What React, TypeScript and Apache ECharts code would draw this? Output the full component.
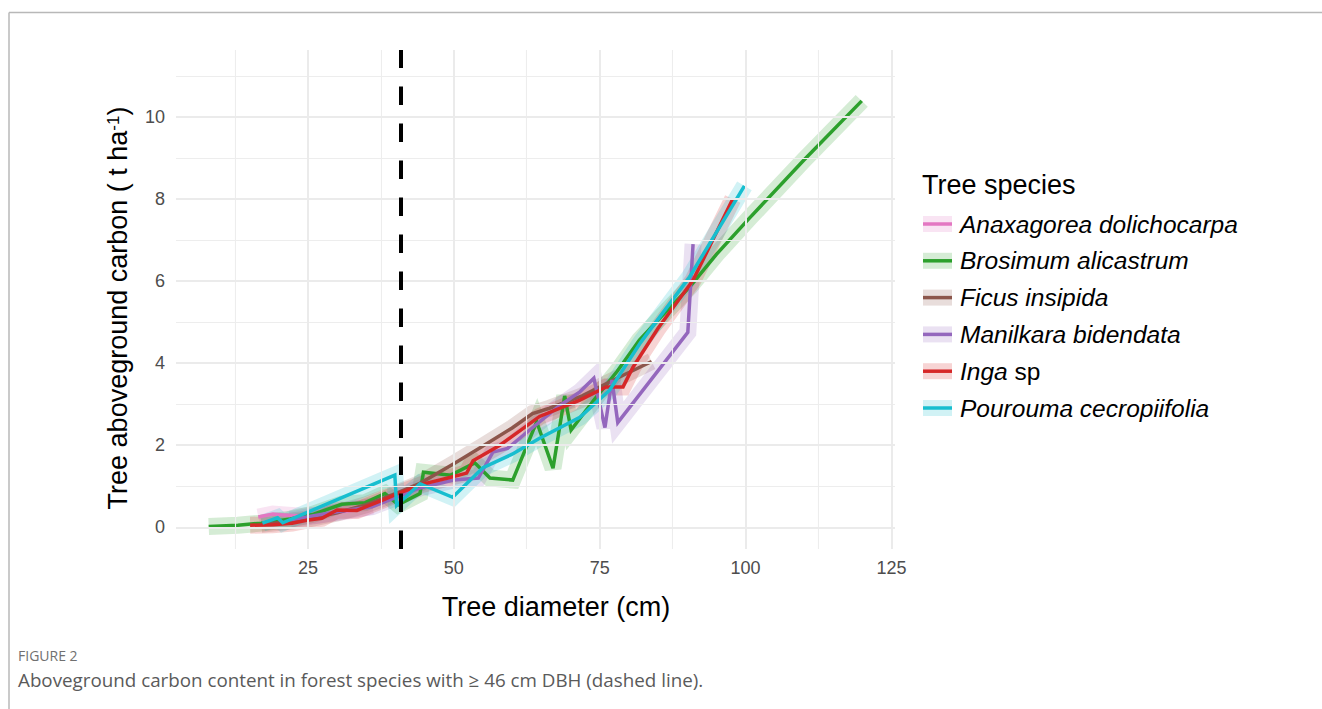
import React, { useEffect, useRef } from "react";
import * as echarts from "echarts";

const FONT = "Arial, sans-serif";
const CAPTION_FONT = "Open Sans, sans-serif";

const SPECIES = [
  "Anaxagorea dolichocarpa",
  "Brosimum alicastrum",
  "Ficus insipida",
  "Manilkara bidendata",
  "Inga sp",
  "Pourouma cecropiifolia",
];
const COLORS = ["#e377c2", "#2ca02c", "#8c564b", "#9467bd", "#d62728", "#17becf"];

const anaxX = [16.5, 19, 21, 24, 27, 30, 33, 36];
const anaxY = [0.25, 0.32, 0.3, 0.27, 0.3, 0.36, 0.42, 0.52];

const brosX = [8, 13, 17, 22, 26, 30.8, 34.8, 38.2, 40.5, 44.2, 44.8, 49.5, 53.6, 56.2, 60.1, 64.2, 67, 69, 70.1, 74, 78, 81.8, 86, 90.4, 95, 100.7, 110, 119.9];
const brosY = [0.02, 0.05, 0.1, 0.2, 0.32, 0.56, 0.6, 0.82, 0.55, 0.82, 1.34, 1.27, 1.57, 1.2, 1.15, 2.57, 1.44, 3.2, 2.37, 3.1, 3.8, 4.56, 5.2, 5.85, 6.65, 7.54, 8.95, 10.39];

const ficusX = [17, 21, 25, 30, 35, 40, 44.2, 50, 55, 60, 63.5, 66.4, 72, 78.4, 83.9];
const ficusY = [0.07, 0.13, 0.2, 0.35, 0.55, 0.82, 1.07, 1.55, 1.98, 2.42, 2.77, 2.9, 3.2, 3.66, 4.04];

const manilX = [22, 26, 31, 36, 40, 44, 50, 54.2, 56.7, 59.2, 63, 68, 71.6, 74, 75.9, 77.1, 78.1, 90.1, 91];
const manilY = [0.18, 0.28, 0.4, 0.5, 0.72, 0.95, 1.15, 1.2, 1.83, 1.92, 2.37, 2.95, 3.3, 3.63, 2.43, 3.59, 2.55, 4.75, 6.9];

const ingaX = [15.1, 19, 22.3, 24.8, 27.4, 30, 33.4, 35.3, 37.8, 40.4, 44.7, 49, 52.2, 53.3, 57.9, 64.7, 71.6, 76.1, 79, 80.7, 85, 91, 97.8];
const ingaY = [0.05, 0.06, 0.1, 0.17, 0.22, 0.42, 0.41, 0.52, 0.66, 0.82, 1.05, 1.2, 1.32, 1.62, 2.0, 2.7, 3.1, 3.42, 3.42, 3.9, 4.85, 6.02, 8.0];

const pourX = [17.2, 19.8, 20.7, 39.9, 40.2, 44.2, 49.8, 55, 60, 64.7, 71.6, 76.7, 82, 90.4, 99.8];
const pourY = [0.1, 0.23, 0.11, 1.27, 0.53, 1.06, 0.73, 1.45, 1.78, 2.17, 2.68, 3.34, 4.5, 6.1, 8.32];

const SERIES_X = [anaxX, brosX, ficusX, manilX, ingaX, pourX];
const SERIES_Y = [anaxY, brosY, ficusY, manilY, ingaY, pourY];

const X_TICKS = [25, 50, 75, 100, 125];
const Y_TICKS = [0, 2, 4, 6, 8, 10];
const X_MINOR = [12.5, 37.5, 62.5, 87.5, 112.5];
const Y_MINOR = [1, 3, 5, 7, 9, 11];
const THRESHOLD = [40.9];

const X_MIN = 2.4;
const X_MAX = 125.6;
const Y_MIN = -0.53;
const Y_MAX = 11.63;

export default function App() {
  const ref = useRef<HTMLDivElement>(null);

  useEffect(() => {
    if (!ref.current) return;
    const chart = echarts.init(ref.current, undefined, { renderer: "svg" });

    const pairs = (xs: number[], ys: number[]) => xs.map((x, i) => [x, ys[i]]);

    const bandSeries = SPECIES.map((name, i) => ({
      type: "line",
      name: name + " band",
      data: pairs(SERIES_X[i], SERIES_Y[i]),
      showSymbol: false,
      symbol: "none",
      silent: true,
      z: 2,
      lineStyle: { color: COLORS[i], width: 17, opacity: 0.2, cap: "butt", join: "miter" },
    }));
    const lineSeries = SPECIES.map((name, i) => ({
      type: "line",
      name,
      data: pairs(SERIES_X[i], SERIES_Y[i]),
      showSymbol: false,
      symbol: "none",
      silent: true,
      z: 3,
      lineStyle: { color: COLORS[i], width: 3.5, join: "miter" },
    }));

    const gridMajor = {
      type: "line",
      data: [],
      z: 1,
      silent: true,
      markLine: {
        silent: true,
        symbol: ["none", "none"],
        label: { show: false },
        lineStyle: { color: "#ebebeb", width: 2, type: "solid" },
        data: [
          ...X_TICKS.map((v) => ({ xAxis: v })),
          ...Y_TICKS.map((v) => ({ yAxis: v })),
        ],
      },
    };
    const gridMinor = {
      type: "line",
      data: [],
      z: 1,
      silent: true,
      markLine: {
        silent: true,
        symbol: ["none", "none"],
        label: { show: false },
        lineStyle: { color: "#ededed", width: 1.1, type: "solid" },
        data: [
          ...X_MINOR.map((v) => ({ xAxis: v })),
          ...Y_MINOR.map((v) => ({ yAxis: v })),
        ],
      },
    };
    const dashed = {
      type: "line",
      data: [],
      z: 10,
      silent: true,
      markLine: {
        silent: true,
        symbol: ["none", "none"],
        label: { show: false },
        lineStyle: { color: "#000000", width: 4, type: [18.5, 18.5] },
        data: THRESHOLD.map((v) => ({ xAxis: v })),
      },
    };

    const legendTop = 224;
    const legendStep = 36.8;
    const legendGraphics: any[] = [];
    SPECIES.forEach((name, i) => {
      const cy = legendTop + i * legendStep;
      legendGraphics.push({
        type: "rect",
        shape: { x: 923, y: cy - 8, width: 29, height: 16 },
        style: { fill: COLORS[i], opacity: 0.2 },
        silent: true,
      });
      legendGraphics.push({
        type: "line",
        shape: { x1: 923, y1: cy, x2: 952, y2: cy },
        style: { stroke: COLORS[i], lineWidth: 3.5 },
        silent: true,
      });
      const parts = name.split(" ");
      const text =
        parts[1] === "sp" ? `{i|${parts[0]}}{n| sp}` : `{i|${name}}`;
      legendGraphics.push({
        type: "text",
        x: 960,
        y: cy,
        silent: true,
        style: {
          text,
          fill: "#000",
          fontSize: 24.5,
          fontFamily: FONT,
          align: "left",
          verticalAlign: "middle",
          rich: {
            i: { fontStyle: "italic", fontSize: 24.5, fontFamily: FONT, fill: "#000" },
            n: { fontSize: 24.5, fontFamily: FONT, fill: "#000" },
          },
        },
      });
    });

    chart.setOption({
      animation: false,
      backgroundColor: "#ffffff",
      grid: { left: 176, right: 1322 - 895, top: 50, bottom: 709 - 549, containLabel: false },
      xAxis: {
        type: "value",
        min: X_MIN,
        max: X_MAX,
        axisLine: { show: false },
        axisTick: { show: false },
        splitLine: { show: false },
        axisLabel: {
          customValues: X_TICKS,
          color: "#4d4d4d",
          fontSize: 18,
          fontFamily: FONT,
          margin: 10,
        },
      },
      yAxis: {
        type: "value",
        min: Y_MIN,
        max: Y_MAX,
        axisLine: { show: false },
        axisTick: { show: false },
        splitLine: { show: false },
        axisLabel: {
          customValues: Y_TICKS,
          color: "#4d4d4d",
          fontSize: 18,
          fontFamily: FONT,
          margin: 11,
        },
      },
      series: [gridMinor, gridMajor, ...bandSeries, ...lineSeries, dashed],
      graphic: [
        {
          type: "line",
          shape: { x1: 9, y1: 12.5, x2: 1322, y2: 12.5 },
          style: { stroke: "#b8b8b8", lineWidth: 1.5 },
          silent: true,
        },
        {
          type: "line",
          shape: { x1: 9, y1: 12.5, x2: 9, y2: 709 },
          style: { stroke: "#b8b8b8", lineWidth: 1.5 },
          silent: true,
        },
        {
          type: "text",
          x: 556,
          y: 607,
          silent: true,
          style: {
            text: "Tree diameter (cm)",
            fill: "#000",
            fontSize: 27,
            fontFamily: FONT,
            align: "center",
            verticalAlign: "middle",
          },
        },
        {
          type: "text",
          x: 118,
          y: 308,
          rotation: Math.PI / 2,
          silent: true,
          style: {
            text: "Tree aboveground carbon ( t ha{sup|-1})",
            fill: "#000",
            fontSize: 27,
            fontFamily: FONT,
            align: "center",
            verticalAlign: "middle",
            rich: {
              sup: {
                fontSize: 17,
                fontFamily: FONT,
                fill: "#000",
                verticalAlign: "top",
                lineHeight: 17,
              },
            },
          },
        },
        {
          type: "text",
          x: 922,
          y: 185,
          silent: true,
          style: {
            text: "Tree species",
            fill: "#000",
            fontSize: 27,
            fontFamily: FONT,
            align: "left",
            verticalAlign: "middle",
          },
        },
        ...legendGraphics,
        {
          type: "text",
          x: 18,
          y: 655,
          silent: true,
          style: {
            text: "FIGURE 2",
            fill: "#707070",
            fontSize: 14,
            fontFamily: CAPTION_FONT,
            align: "left",
            verticalAlign: "middle",
          },
        },
        {
          type: "text",
          x: 18,
          y: 680,
          silent: true,
          style: {
            text: "Aboveground carbon content in forest species with \u2265 46 cm DBH (dashed line).",
            fill: "#5a5a5a",
            fontSize: 18.8,
            fontFamily: CAPTION_FONT,
            align: "left",
            verticalAlign: "middle",
          },
        },
      ],
    });

    return () => chart.dispose();
  }, []);

  return (
    <div
      ref={ref}
      style={{ position: "absolute", left: 0, top: 0, width: 1322, height: 709 }}
    />
  );
}
